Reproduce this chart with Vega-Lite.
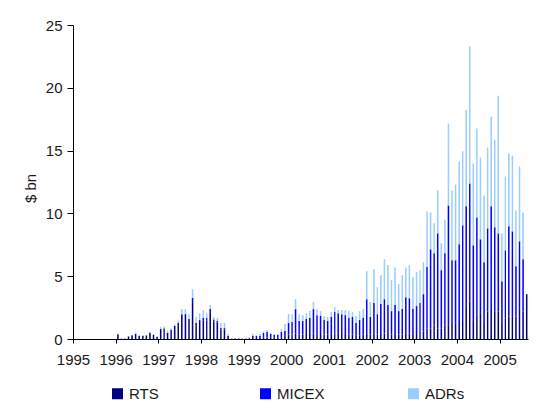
{
  "$schema": "https://vega.github.io/schema/vega-lite/v6.json",
  "width": 455,
  "height": 314,
  "autosize": {"type": "none"},
  "padding": {"left": 73, "top": 25, "right": 26, "bottom": 76},
  "background": "white",
  "config": {
    "view": {"stroke": null},
    "font": "Liberation Sans",
    "axis": {"labelFont": "Liberation Sans", "titleFont": "Liberation Sans"},
    "legend": {"labelFont": "Liberation Sans"}
  },
  "data": {
    "values": [
      {"d": "1996-01-01", "RTS": 0.37, "MICEX": 0, "ADRs": 0.05},
      {"d": "1996-02-01", "RTS": 0.03, "MICEX": 0, "ADRs": 0.05},
      {"d": "1996-03-01", "RTS": 0.03, "MICEX": 0, "ADRs": 0.05},
      {"d": "1996-04-01", "RTS": 0.21, "MICEX": 0, "ADRs": 0.03},
      {"d": "1996-05-01", "RTS": 0.29, "MICEX": 0, "ADRs": 0.02},
      {"d": "1996-06-01", "RTS": 0.40, "MICEX": 0, "ADRs": 0.13},
      {"d": "1996-07-01", "RTS": 0.26, "MICEX": 0, "ADRs": 0.02},
      {"d": "1996-08-01", "RTS": 0.26, "MICEX": 0, "ADRs": 0.02},
      {"d": "1996-09-01", "RTS": 0.29, "MICEX": 0, "ADRs": 0.03},
      {"d": "1996-10-01", "RTS": 0.48, "MICEX": 0, "ADRs": 0.08},
      {"d": "1996-11-01", "RTS": 0.34, "MICEX": 0, "ADRs": 0.03},
      {"d": "1996-12-01", "RTS": 0.16, "MICEX": 0, "ADRs": 0.08},
      {"d": "1997-01-01", "RTS": 0.79, "MICEX": 0, "ADRs": 0.16},
      {"d": "1997-02-01", "RTS": 0.85, "MICEX": 0, "ADRs": 0.18},
      {"d": "1997-03-01", "RTS": 0.50, "MICEX": 0, "ADRs": 0.16},
      {"d": "1997-04-01", "RTS": 0.71, "MICEX": 0, "ADRs": 0.14},
      {"d": "1997-05-01", "RTS": 1.06, "MICEX": 0, "ADRs": 0.10},
      {"d": "1997-06-01", "RTS": 1.27, "MICEX": 0, "ADRs": 0.21},
      {"d": "1997-07-01", "RTS": 1.98, "MICEX": 0, "ADRs": 0.40},
      {"d": "1997-08-01", "RTS": 1.98, "MICEX": 0, "ADRs": 0.40},
      {"d": "1997-09-01", "RTS": 1.59, "MICEX": 0, "ADRs": 0.39},
      {"d": "1997-10-01", "RTS": 2.94, "MICEX": 0.34, "ADRs": 0.69},
      {"d": "1997-11-01", "RTS": 1.27, "MICEX": 0, "ADRs": 0.48},
      {"d": "1997-12-01", "RTS": 1.35, "MICEX": 0.16, "ADRs": 0.55},
      {"d": "1998-01-01", "RTS": 1.45, "MICEX": 0.22, "ADRs": 0.61},
      {"d": "1998-02-01", "RTS": 1.45, "MICEX": 0.22, "ADRs": 0.39},
      {"d": "1998-03-01", "RTS": 2.00, "MICEX": 0.38, "ADRs": 0.32},
      {"d": "1998-04-01", "RTS": 1.40, "MICEX": 0.16, "ADRs": 0.19},
      {"d": "1998-05-01", "RTS": 1.30, "MICEX": 0.13, "ADRs": 0.24},
      {"d": "1998-06-01", "RTS": 0.75, "MICEX": 0.12, "ADRs": 0.40},
      {"d": "1998-07-01", "RTS": 0.75, "MICEX": 0.12, "ADRs": 0.40},
      {"d": "1998-08-01", "RTS": 0.24, "MICEX": 0, "ADRs": 0.16},
      {"d": "1998-09-01", "RTS": 0.03, "MICEX": 0, "ADRs": 0.02},
      {"d": "1998-10-01", "RTS": 0.03, "MICEX": 0, "ADRs": 0.02},
      {"d": "1998-11-01", "RTS": 0.03, "MICEX": 0, "ADRs": 0.02},
      {"d": "1998-12-01", "RTS": 0.03, "MICEX": 0, "ADRs": 0.02},
      {"d": "1999-01-01", "RTS": 0.02, "MICEX": 0.02, "ADRs": 0.01},
      {"d": "1999-02-01", "RTS": 0.05, "MICEX": 0.05, "ADRs": 0},
      {"d": "1999-03-01", "RTS": 0.08, "MICEX": 0.16, "ADRs": 0.16},
      {"d": "1999-04-01", "RTS": 0.08, "MICEX": 0.16, "ADRs": 0.08},
      {"d": "1999-05-01", "RTS": 0.08, "MICEX": 0.16, "ADRs": 0.16},
      {"d": "1999-06-01", "RTS": 0.12, "MICEX": 0.36, "ADRs": 0.13},
      {"d": "1999-07-01", "RTS": 0.12, "MICEX": 0.44, "ADRs": 0.15},
      {"d": "1999-08-01", "RTS": 0.10, "MICEX": 0.30, "ADRs": 0.08},
      {"d": "1999-09-01", "RTS": 0.10, "MICEX": 0.22, "ADRs": 0.08},
      {"d": "1999-10-01", "RTS": 0.10, "MICEX": 0.22, "ADRs": 0.08},
      {"d": "1999-11-01", "RTS": 0.15, "MICEX": 0.41, "ADRs": 0.23},
      {"d": "1999-12-01", "RTS": 0.15, "MICEX": 0.48, "ADRs": 0.56},
      {"d": "2000-01-01", "RTS": 0.35, "MICEX": 0.92, "ADRs": 0.71},
      {"d": "2000-02-01", "RTS": 0.35, "MICEX": 1.00, "ADRs": 0.63},
      {"d": "2000-03-01", "RTS": 0.45, "MICEX": 1.93, "ADRs": 0.79},
      {"d": "2000-04-01", "RTS": 0.35, "MICEX": 1.08, "ADRs": 0.55},
      {"d": "2000-05-01", "RTS": 0.35, "MICEX": 1.08, "ADRs": 0.47},
      {"d": "2000-06-01", "RTS": 0.40, "MICEX": 1.19, "ADRs": 0.47},
      {"d": "2000-07-01", "RTS": 0.40, "MICEX": 1.27, "ADRs": 0.55},
      {"d": "2000-08-01", "RTS": 0.45, "MICEX": 1.93, "ADRs": 0.56},
      {"d": "2000-09-01", "RTS": 0.40, "MICEX": 1.50, "ADRs": 0.48},
      {"d": "2000-10-01", "RTS": 0.40, "MICEX": 1.43, "ADRs": 0.39},
      {"d": "2000-11-01", "RTS": 0.35, "MICEX": 1.16, "ADRs": 0.32},
      {"d": "2000-12-01", "RTS": 0.35, "MICEX": 1.08, "ADRs": 0.32},
      {"d": "2001-01-01", "RTS": 0.40, "MICEX": 1.35, "ADRs": 0.39},
      {"d": "2001-02-01", "RTS": 0.45, "MICEX": 1.69, "ADRs": 0.40},
      {"d": "2001-03-01", "RTS": 0.45, "MICEX": 1.61, "ADRs": 0.24},
      {"d": "2001-04-01", "RTS": 0.40, "MICEX": 1.58, "ADRs": 0.32},
      {"d": "2001-05-01", "RTS": 0.40, "MICEX": 1.50, "ADRs": 0.40},
      {"d": "2001-06-01", "RTS": 0.35, "MICEX": 1.32, "ADRs": 0.55},
      {"d": "2001-07-01", "RTS": 0.35, "MICEX": 1.40, "ADRs": 0.39},
      {"d": "2001-08-01", "RTS": 0.30, "MICEX": 0.97, "ADRs": 0.56},
      {"d": "2001-09-01", "RTS": 0.30, "MICEX": 1.21, "ADRs": 0.71},
      {"d": "2001-10-01", "RTS": 0.35, "MICEX": 1.32, "ADRs": 0.71},
      {"d": "2001-11-01", "RTS": 0.45, "MICEX": 2.72, "ADRs": 2.23},
      {"d": "2001-12-01", "RTS": 0.35, "MICEX": 1.40, "ADRs": 1.19},
      {"d": "2002-01-01", "RTS": 0.45, "MICEX": 2.41, "ADRs": 2.70},
      {"d": "2002-02-01", "RTS": 0.35, "MICEX": 1.63, "ADRs": 2.15},
      {"d": "2002-03-01", "RTS": 0.40, "MICEX": 2.38, "ADRs": 2.30},
      {"d": "2002-04-01", "RTS": 0.45, "MICEX": 2.72, "ADRs": 3.18},
      {"d": "2002-05-01", "RTS": 0.40, "MICEX": 2.30, "ADRs": 3.20},
      {"d": "2002-06-01", "RTS": 0.35, "MICEX": 1.87, "ADRs": 2.46},
      {"d": "2002-07-01", "RTS": 0.40, "MICEX": 2.30, "ADRs": 3.00},
      {"d": "2002-08-01", "RTS": 0.35, "MICEX": 1.87, "ADRs": 2.15},
      {"d": "2002-09-01", "RTS": 0.35, "MICEX": 2.03, "ADRs": 2.70},
      {"d": "2002-10-01", "RTS": 0.45, "MICEX": 2.88, "ADRs": 2.37},
      {"d": "2002-11-01", "RTS": 0.45, "MICEX": 2.80, "ADRs": 2.62},
      {"d": "2002-12-01", "RTS": 0.40, "MICEX": 2.01, "ADRs": 2.51},
      {"d": "2003-01-01", "RTS": 0.40, "MICEX": 2.22, "ADRs": 2.72},
      {"d": "2003-02-01", "RTS": 0.55, "MICEX": 2.31, "ADRs": 2.62},
      {"d": "2003-03-01", "RTS": 0.58, "MICEX": 2.99, "ADRs": 2.54},
      {"d": "2003-04-01", "RTS": 0.82, "MICEX": 4.92, "ADRs": 4.42},
      {"d": "2003-05-01", "RTS": 0.82, "MICEX": 6.32, "ADRs": 2.94},
      {"d": "2003-06-01", "RTS": 1.06, "MICEX": 5.77, "ADRs": 2.38},
      {"d": "2003-07-01", "RTS": 0.82, "MICEX": 7.59, "ADRs": 3.42},
      {"d": "2003-08-01", "RTS": 0.82, "MICEX": 4.66, "ADRs": 2.14},
      {"d": "2003-09-01", "RTS": 1.10, "MICEX": 5.73, "ADRs": 2.69},
      {"d": "2003-10-01", "RTS": 1.10, "MICEX": 9.53, "ADRs": 6.51},
      {"d": "2003-11-01", "RTS": 1.20, "MICEX": 5.07, "ADRs": 5.56},
      {"d": "2003-12-01", "RTS": 1.20, "MICEX": 5.07, "ADRs": 6.03},
      {"d": "2004-01-01", "RTS": 1.35, "MICEX": 6.19, "ADRs": 6.59},
      {"d": "2004-02-01", "RTS": 1.35, "MICEX": 7.70, "ADRs": 5.90},
      {"d": "2004-03-01", "RTS": 2.38, "MICEX": 8.18, "ADRs": 7.69},
      {"d": "2004-04-01", "RTS": 3.00, "MICEX": 9.38, "ADRs": 10.92},
      {"d": "2004-05-01", "RTS": 1.43, "MICEX": 6.03, "ADRs": 6.51},
      {"d": "2004-06-01", "RTS": 1.90, "MICEX": 7.78, "ADRs": 7.07},
      {"d": "2004-07-01", "RTS": 2.06, "MICEX": 5.88, "ADRs": 6.50},
      {"d": "2004-08-01", "RTS": 1.27, "MICEX": 4.84, "ADRs": 5.32},
      {"d": "2004-09-01", "RTS": 2.20, "MICEX": 6.61, "ADRs": 6.43},
      {"d": "2004-10-01", "RTS": 2.30, "MICEX": 8.26, "ADRs": 7.14},
      {"d": "2004-11-01", "RTS": 2.20, "MICEX": 6.69, "ADRs": 6.98},
      {"d": "2004-12-01", "RTS": 2.20, "MICEX": 6.21, "ADRs": 10.96},
      {"d": "2005-01-01", "RTS": 1.20, "MICEX": 3.40, "ADRs": 3.81},
      {"d": "2005-02-01", "RTS": 1.60, "MICEX": 5.46, "ADRs": 5.88},
      {"d": "2005-03-01", "RTS": 1.80, "MICEX": 7.17, "ADRs": 5.79},
      {"d": "2005-04-01", "RTS": 1.75, "MICEX": 6.82, "ADRs": 6.03},
      {"d": "2005-05-01", "RTS": 1.80, "MICEX": 3.99, "ADRs": 4.45},
      {"d": "2005-06-01", "RTS": 2.38, "MICEX": 5.40, "ADRs": 5.95},
      {"d": "2005-07-01", "RTS": 2.17, "MICEX": 4.18, "ADRs": 3.73},
      {"d": "2005-08-01", "RTS": 3.57, "MICEX": 0, "ADRs": 0}
    ]
  },
  "transform": [
    {"fold": ["RTS", "MICEX", "ADRs"], "as": ["series", "value"]}
  ],
  "mark": {"type": "bar", "width": {"band": 0.7}},
  "encoding": {
    "x": {
      "field": "d",
      "type": "temporal",
      "timeUnit": "utcyearmonth",
      "title": null,
      "scale": {
        "domain": [
          {"year": 1995, "month": 1, "date": 1, "utc": true},
          {"year": 2005, "month": 9, "date": 1, "utc": true}
        ],
        "nice": false
      },
      "axis": {
        "values": [
          {"year": 1995, "month": 1, "date": 1, "utc": true},
          {"year": 1996, "month": 1, "date": 1, "utc": true},
          {"year": 1997, "month": 1, "date": 1, "utc": true},
          {"year": 1998, "month": 1, "date": 1, "utc": true},
          {"year": 1999, "month": 1, "date": 1, "utc": true},
          {"year": 2000, "month": 1, "date": 1, "utc": true},
          {"year": 2001, "month": 1, "date": 1, "utc": true},
          {"year": 2002, "month": 1, "date": 1, "utc": true},
          {"year": 2003, "month": 1, "date": 1, "utc": true},
          {"year": 2004, "month": 1, "date": 1, "utc": true},
          {"year": 2005, "month": 1, "date": 1, "utc": true}
        ],
        "format": "%Y",
        "grid": false,
        "domainColor": "#000000",
        "domainWidth": 1,
        "tickColor": "#000000",
        "tickSize": 4,
        "labelFontSize": 15,
        "labelColor": "#1a1a1a",
        "labelPadding": 9,
        "labelFlush": false,
        "labelOverlap": false
      }
    },
    "y": {
      "field": "value",
      "type": "quantitative",
      "stack": "zero",
      "title": "$ bn",
      "scale": {"domain": [0, 25], "nice": false},
      "axis": {
        "values": [0, 5, 10, 15, 20, 25],
        "grid": false,
        "domainColor": "#000000",
        "tickColor": "#000000",
        "tickSize": 6,
        "labelPadding": 5,
        "labelFontSize": 15,
        "labelColor": "#1a1a1a",
        "titleFontSize": 15,
        "titleFontWeight": "normal",
        "titleColor": "#1a1a1a",
        "titleAngle": -90,
        "titleX": -43,
        "titleY": 163,
        "titleAlign": "center",
        "titleBaseline": "middle"
      }
    },
    "color": {
      "field": "series",
      "type": "nominal",
      "sort": ["RTS", "MICEX", "ADRs"],
      "scale": {
        "domain": ["RTS", "MICEX", "ADRs"],
        "range": ["#000080", "#0000FF", "#99CCFF"]
      },
      "legend": {
        "title": null,
        "orient": "none",
        "direction": "horizontal",
        "columns": 3,
        "gridAlign": "all",
        "legendX": 37,
        "legendY": 361,
        "padding": 0,
        "symbolType": "square",
        "symbolSize": 121,
        "symbolStrokeWidth": 0,
        "symbolOpacity": 1,
        "labelFontSize": 15,
        "labelColor": "#1a1a1a",
        "labelOffset": 4,
        "columnPadding": 81
      }
    },
    "order": {"field": "series", "sort": "descending"}
  }
}
